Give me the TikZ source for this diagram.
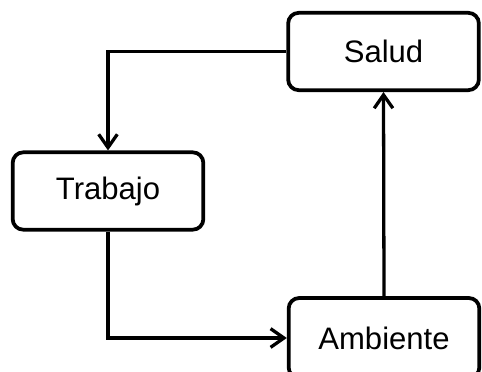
\documentclass[tikz,border=0pt]{standalone}
\usepackage{fontspec}
\setmainfont{Liberation Sans}
\usetikzlibrary{arrows.meta,positioning}

\begin{document}
\begin{tikzpicture}[x=0.03cm, y=-0.03cm,
  caja/.style={draw, line width=3.2pt, rounded corners=9pt, inner sep=0pt,
    minimum width=5.72cm, minimum height=2.32cm,
    font=\fontsize{26.5}{30}\selectfont},
  flecha/.style={line width=2.8pt, -{Straight Barb[length=4mm, width=5.6mm, line width=2.8pt]}},
]

\useasboundingbox (0,0) rectangle (482,372);
\clip (0,0) rectangle (482,372);

\node[caja] (salud) at (383.5,51.5) {Salud};
\node[caja] (trabajo) at (108,191) {Trabajo};
\node[caja, minimum height=2.4cm] (ambiente) at (384,338) {Ambiente};

\draw[flecha] (salud.west) -| (trabajo.north);
\draw[flecha] (trabajo.south) |- (ambiente.west);
\draw[flecha] (ambiente.north) -- (salud.south);

\end{tikzpicture}
\end{document}
